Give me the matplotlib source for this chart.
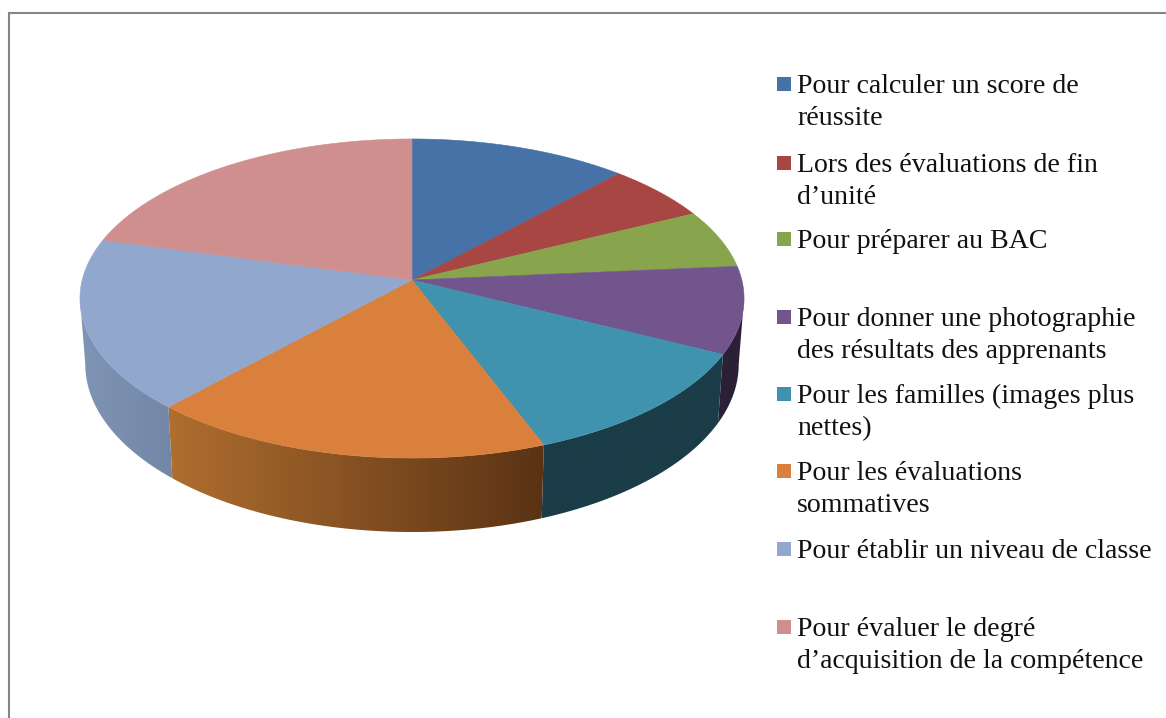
import numpy as np
import matplotlib
matplotlib.use('Agg')
import matplotlib.pyplot as plt
from matplotlib.colors import LinearSegmentedColormap
from matplotlib.patches import Polygon

plt.rcParams['font.family'] = ['Liberation Serif', 'DejaVu Serif']

# Data (share of the pie, in percent)
labels = [
    'Pour calculer un score de\nréussite',
    'Lors des évaluations de fin\nd’unité',
    'Pour préparer au BAC',
    'Pour donner une photographie\ndes résultats des apprenants',
    'Pour les familles (images plus\nnettes)',
    'Pour les évaluations\nsommatives',
    'Pour établir un niveau de classe',
    'Pour évaluer le degré\nd’acquisition de la compétence',
]
values = [11.9, 5.8, 5.9, 8.8, 11.8, 17.6, 17.4, 20.8]

# Colours
top_colors = ['#4672A8', '#A84644', '#88A44C', '#72558C',
              '#3F93AE', '#D8803C', '#92A7CD', '#CF8F8E']
wall_left = ['#2A4465', '#652A29', '#52622E', '#2B2036',
             '#1A3D48', '#B06E30', '#8095B5', '#7C5655']
wall_right = ['#2A4465', '#652A29', '#52622E', '#2B2036',
              '#1A3D48', '#5A3314', '#7286A6', '#7C5655']

# Legend layout, baseline of the first line of each entry (pixels)
legend_y = [93, 172, 248, 326, 403, 480, 558, 636]

# Perspective of the pie, in pixels
cx = 412
persp = 0.116
top_rx, top_ry, top_y = 329.8, 157.4, 280
bot_rx, bot_ry, bot_y = 324.5, 165.5, 344.8

# Angles where the outline of the pie turns, only the wall between them shows
front_a = np.arccos(-persp)
front_b = 2 * np.pi - front_a


def rim(theta, rx, ry, y0):
    s, c = np.sin(theta), np.cos(theta)
    d = 1 + persp * c
    return np.column_stack([cx + rx * s / d, y0 - ry * c / d])


fig = plt.figure(figsize=(11.66, 7.18), dpi=100)
ax = fig.add_axes([0, 0, 1, 1])

# Outer frame runs off the right and bottom of the image
ax.plot([9, 9, 1180], [730, 13, 13], color='#868686', lw=1.5, solid_joinstyle='miter')

edges = 2 * np.pi * np.concatenate([[0], np.cumsum(values)]) / np.sum(values)

# Side walls first, the top faces go over them
for i in range(len(values)):
    a = max(edges[i], front_a)
    b = min(edges[i + 1], front_b)
    if b <= a:
        continue
    t = np.linspace(a, b, 100)
    up = rim(t, top_rx, top_ry, top_y)
    low = rim(t, bot_rx, bot_ry, bot_y)
    pts = np.vstack([up, low[::-1]])
    poly = Polygon(pts, closed=True, facecolor='none', edgecolor='none')
    ax.add_patch(poly)
    cmap = LinearSegmentedColormap.from_list('wall', [wall_left[i], wall_right[i]])
    x0, x1 = pts[:, 0].min(), pts[:, 0].max()
    y0, y1 = pts[:, 1].min(), pts[:, 1].max()
    im = ax.imshow(np.linspace(0, 1, 256)[None, :], cmap=cmap, aspect='auto',
                   extent=[x0, x1, y1, y0], zorder=2, interpolation='bilinear')
    im.set_clip_path(poly)

for i in range(len(values)):
    t = np.linspace(edges[i], edges[i + 1], 100)
    pts = np.vstack([[cx, top_y], rim(t, top_rx, top_ry, top_y)])
    ax.add_patch(Polygon(pts, closed=True, facecolor=top_colors[i],
                         edgecolor=top_colors[i], lw=0.4, zorder=3))

# Legend
for i, lab in enumerate(labels):
    ax.add_patch(plt.Rectangle((777, legend_y[i] - 16), 14, 14,
                               facecolor=top_colors[i], edgecolor='none', zorder=4))
    for j, line in enumerate(lab.split('\n')):
        ax.text(797, legend_y[i] + j * 32, line, fontsize=20.1, color='#111111',
                va='baseline', ha='left', zorder=4)

ax.set_xlim(0, 1166)
ax.set_ylim(718, 0)
ax.axis('off')

fig.savefig('out.png', dpi=100)
